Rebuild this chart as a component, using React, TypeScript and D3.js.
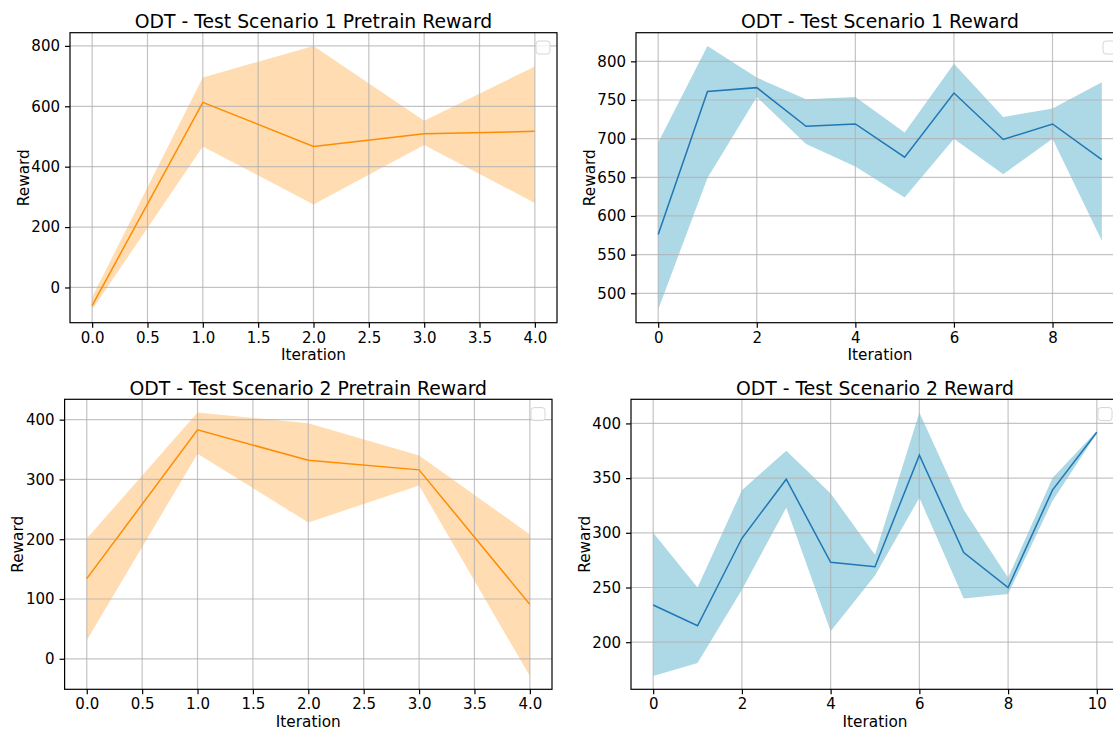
import * as d3 from "d3";
import { useEffect, useRef } from "react";

// Scenario 1, pretrain phase
const pre1Iter = [0, 1, 2, 3, 4];
const pre1Mean = [-60, 613, 467, 509, 517];
const pre1Upper = [-32, 695, 800, 552, 732];
const pre1Lower = [-73, 467, 275, 472, 280];

// Scenario 1, online phase
const on1Iter = [0, 1, 2, 3, 4, 5, 6, 7, 8, 9];
const on1Mean = [576, 761, 766, 716, 719, 676, 759, 699, 719, 673];
const on1Upper = [695, 820, 779, 751, 754, 708, 797, 728, 739, 773];
const on1Lower = [479, 649, 754, 693, 664, 624, 700, 654, 700, 568];

// Scenario 2, pretrain phase
const pre2Iter = [0, 1, 2, 3, 4];
const pre2Mean = [134, 383, 332, 316, 91];
const pre2Upper = [201, 412, 394, 340, 208];
const pre2Lower = [31, 343, 228, 290, -29];

// Scenario 2, online phase
const on2Iter = [0, 1, 2, 3, 4, 5, 6, 7, 8, 9, 10];
const on2Mean = [234, 215, 295, 349, 273, 269, 371, 282, 250, 339, 392];
const on2Upper = [300, 250, 339, 375, 336, 280, 410, 321, 259, 350, 393];
const on2Lower = [169, 181, 248, 323, 210, 261, 332, 240, 244, 329, 391];

const preXTicks = [0, 0.5, 1, 1.5, 2, 2.5, 3, 3.5, 4];
const on1XTicks = [0, 2, 4, 6, 8];
const on2XTicks = [0, 2, 4, 6, 8, 10];
const pre1YTicks = [0, 200, 400, 600, 800];
const on1YTicks = [500, 550, 600, 650, 700, 750, 800];
const pre2YTicks = [0, 100, 200, 300, 400];
const on2YTicks = [200, 250, 300, 350, 400];

const FONT = "DejaVu Sans, sans-serif";

const panels = [
  {
    title: "ODT - Test Scenario 1 Pretrain Reward",
    iter: pre1Iter, mean: pre1Mean, upper: pre1Upper, lower: pre1Lower,
    xTicks: preXTicks, yTicks: pre1YTicks, xFmt: d3.format(".1f"),
    line: "#ff8c00", fill: "#ff8c00", fillOpacity: 0.3,
    box: { left: 70, right: 557, top: 32.7, bottom: 322.7 },
  },
  {
    title: "ODT - Test Scenario 1 Reward",
    iter: on1Iter, mean: on1Mean, upper: on1Upper, lower: on1Lower,
    xTicks: on1XTicks, yTicks: on1YTicks, xFmt: d3.format("d"),
    line: "#1f77b4", fill: "#add8e6", fillOpacity: 1,
    box: { left: 636, right: 1124, top: 32.7, bottom: 322.7 },
  },
  {
    title: "ODT - Test Scenario 2 Pretrain Reward",
    iter: pre2Iter, mean: pre2Mean, upper: pre2Upper, lower: pre2Lower,
    xTicks: preXTicks, yTicks: pre2YTicks, xFmt: d3.format(".1f"),
    line: "#ff8c00", fill: "#ff8c00", fillOpacity: 0.3,
    box: { left: 64.6, right: 552, top: 399.3, bottom: 689.3 },
  },
  {
    title: "ODT - Test Scenario 2 Reward",
    iter: on2Iter, mean: on2Mean, upper: on2Upper, lower: on2Lower,
    xTicks: on2XTicks, yTicks: on2YTicks, xFmt: d3.format("d"),
    line: "#1f77b4", fill: "#add8e6", fillOpacity: 1,
    box: { left: 631, right: 1119, top: 399.3, bottom: 689.3 },
  },
];

// matplotlib-style 5% padding around the data
function padded(lo: number, hi: number) {
  const m = (hi - lo) * 0.05;
  return [lo - m, hi + m];
}

export default function App() {
  const ref = useRef<SVGSVGElement>(null);

  useEffect(() => {
    const svg = d3.select(ref.current);
    svg.selectAll("*").remove();

    panels.forEach(p => {
      const { left, right, top, bottom } = p.box;
      const x = d3.scaleLinear()
        .domain(padded(d3.min(p.iter)!, d3.max(p.iter)!))
        .range([left, right]);
      const y = d3.scaleLinear()
        .domain(padded(d3.min(p.lower)!, d3.max(p.upper)!))
        .range([bottom, top]);

      const g = svg.append("g");

      const rows = p.iter.map((it, i) => ({
        it, mean: p.mean[i], upper: p.upper[i], lower: p.lower[i],
      }));

      // band
      const area = d3.area<any>()
        .x(d => x(d.it))
        .y0(d => y(d.lower))
        .y1(d => y(d.upper));
      g.append("path")
        .datum(rows)
        .attr("d", area)
        .attr("fill", p.fill)
        .attr("fill-opacity", p.fillOpacity);

      // grid
      g.append("g")
        .selectAll("line")
        .data(p.xTicks)
        .join("line")
        .attr("x1", d => x(d)).attr("x2", d => x(d))
        .attr("y1", top).attr("y2", bottom)
        .attr("stroke", "#b0b0b0")
        .attr("stroke-opacity", 0.75)
        .attr("stroke-width", 1.2);
      g.append("g")
        .selectAll("line")
        .data(p.yTicks)
        .join("line")
        .attr("x1", left).attr("x2", right)
        .attr("y1", d => y(d)).attr("y2", d => y(d))
        .attr("stroke", "#b0b0b0")
        .attr("stroke-opacity", 0.75)
        .attr("stroke-width", 1.2);

      // mean line
      const line = d3.line<any>()
        .x(d => x(d.it))
        .y(d => y(d.mean));
      g.append("path")
        .datum(rows)
        .attr("d", line)
        .attr("fill", "none")
        .attr("stroke", p.line)
        .attr("stroke-width", 1.5);

      // axes
      const xAxis = d3.axisBottom(x)
        .tickValues(p.xTicks)
        .tickFormat(p.xFmt as any)
        .tickSize(5)
        .tickPadding(4.5);
      const yAxis = d3.axisLeft(y)
        .tickValues(p.yTicks)
        .tickFormat(d3.format("d") as any)
        .tickSize(5)
        .tickPadding(5);

      const gx = g.append("g")
        .attr("transform", `translate(0,${bottom})`)
        .call(xAxis);
      const gy = g.append("g")
        .attr("transform", `translate(${left},0)`)
        .call(yAxis);
      [gx, gy].forEach(a => {
        a.select(".domain").remove();
        a.selectAll("line").attr("stroke", "#000").attr("stroke-width", 1.2);
        a.selectAll("text")
          .attr("fill", "#000")
          .style("font-family", FONT)
          .style("font-size", "15px");
      });

      // spines
      g.append("rect")
        .attr("x", left).attr("y", top)
        .attr("width", right - left).attr("height", bottom - top)
        .attr("fill", "none")
        .attr("stroke", "#000")
        .attr("stroke-width", 1.2);

      // empty legend frame
      g.append("rect")
        .attr("x", right - 21).attr("y", top + 8.3)
        .attr("width", 14).attr("height", 13)
        .attr("rx", 3)
        .attr("fill", "#fff").attr("fill-opacity", 0.8)
        .attr("stroke", "#d6d6d6");

      // title
      g.append("text")
        .attr("x", (left + right) / 2)
        .attr("y", top - 4.7)
        .attr("text-anchor", "middle")
        .style("font-family", FONT)
        .style("font-size", "18.8px")
        .text(p.title);

      g.append("text")
        .attr("x", (left + right) / 2)
        .attr("y", bottom + 37.5)
        .attr("text-anchor", "middle")
        .style("font-family", FONT)
        .style("font-size", "15.3px")
        .text("Iteration");

      g.append("text")
        .attr("transform", `translate(${left - 41.5},${(top + bottom) / 2}) rotate(-90)`)
        .attr("text-anchor", "middle")
        .style("font-family", FONT)
        .style("font-size", "15.3px")
        .text("Reward");
    });
  }, []);

  return (
    <svg
      ref={ref}
      width={1113}
      height={729}
      style={{ position: "fixed", left: 0, top: 0, background: "#fff", overflow: "hidden" }}
    />
  );
}
